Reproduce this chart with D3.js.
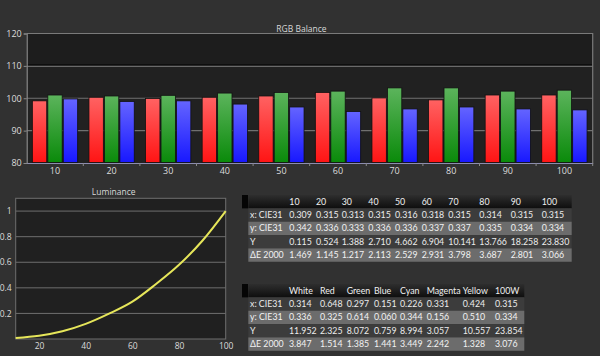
<!DOCTYPE html>
<html><head><meta charset="utf-8">
<script src="https://cdn.jsdelivr.net/npm/d3@7"></script>
<style>
html,body{margin:0;padding:0;background:#313131;}
svg{display:block;}
text{font-family:"Open Sans",sans-serif;}
.tbl text{font-family:Lato,"Open Sans",sans-serif;}
</style></head>
<body>
<script>
// ---- data ----
const levels = ["10","20","30","40","50","60","70","80","90","100"];
const redVals   = [99.2,100.3,99.9,100.3,100.7,101.8,100.1,99.5,101.0,101.0];
const greenVals = [101.0,100.7,100.9,101.6,101.8,102.2,103.2,103.2,102.2,102.5];
const blueVals  = [99.8,99.0,99.2,98.2,97.3,95.9,96.7,97.3,96.7,96.4];
const rgbTicks = [80,90,100,110,120];

const lumX = [10,20,30,40,50,60,70,80,90,100];
const lumVals = [0.008,0.025,0.06,0.118,0.198,0.292,0.428,0.58,0.768,1.0];
const lumYTicks = [0.2,0.4,0.6,0.8,1];
const lumXTicks = [20,40,60,80,100];

const t1Header = ["10","20","30","40","50","60","70","80","90","100"];
const t1Labels = ["x: CIE31","y: CIE31","Y","\u0394E 2000"];
const t1x  = ["0.309","0.315","0.313","0.315","0.316","0.318","0.315","0.314","0.315","0.315"];
const t1y  = ["0.342","0.336","0.333","0.336","0.336","0.337","0.337","0.335","0.334","0.334"];
const t1Y  = ["0.115","0.524","1.388","2.710","4.662","6.904","10.141","13.766","18.258","23.830"];
const t1dE = ["1.469","1.145","1.217","2.113","2.529","2.931","3.798","3.687","2.801","3.066"];

const t2Header = ["White","Red","Green","Blue","Cyan","Magenta","Yellow","100W"];
const t2x  = ["0.314","0.648","0.297","0.151","0.226","0.331","0.424","0.315"];
const t2y  = ["0.336","0.325","0.614","0.060","0.344","0.156","0.510","0.334"];
const t2Y  = ["11.952","2.325","8.072","0.759","8.994","3.057","10.557","23.854"];
const t2dE = ["3.847","1.514","1.385","1.441","3.449","2.242","1.328","3.076"];

// ---- svg ----
const W=600,H=356;
const svg=d3.select("body").append("svg").attr("width",W).attr("height",H);
const defs=svg.append("defs");
svg.append("rect").attr("width",W).attr("height",H).attr("fill","#313131");

function grad(id,top,bot){
  const g=defs.append("linearGradient").attr("id",id).attr("x1",0).attr("y1",0).attr("x2",0).attr("y2",1);
  g.append("stop").attr("offset","0%").attr("stop-color",top);
  g.append("stop").attr("offset","100%").attr("stop-color",bot);
}
grad("gR","#ff6262","#ff1414");
grad("gG","#5cb45c","#0a8a0a");
grad("gB","#6464ff","#1818ff");
grad("gH","#2e2e2e","#0e0e0e");

// ---- RGB Balance ----
const m={l:26.7,r:592.7,t:33.5,b:163};
const x0=d3.scaleBand().domain(levels).range([m.l,m.r]).paddingInner(0.2).paddingOuter(0.1);
const x1=d3.scaleBand().domain(["R","G","B"]).range([0,x0.bandwidth()]).paddingInner(0.07);
const y=d3.scaleLinear().domain([80,120]).range([m.b,m.t]);

svg.append("rect").attr("x",m.l).attr("y",m.t).attr("width",m.r-m.l).attr("height",m.b-m.t).attr("fill","#212121");
svg.append("rect").attr("x",m.l).attr("y",m.t).attr("width",m.r-m.l).attr("height",y(110)-m.t).attr("fill","#1d1d1d");
[90,100].forEach(v=>{
  svg.append("line").attr("x1",m.l).attr("x2",m.r).attr("y1",y(v)).attr("y2",y(v)).attr("stroke","#707070").attr("stroke-width",1.2);
});
svg.append("line").attr("x1",m.l).attr("x2",m.r).attr("y1",y(110)-1).attr("y2",y(110)-1).attr("stroke","#0a0a0a").attr("stroke-width",1.2);
svg.append("line").attr("x1",m.l).attr("x2",m.r).attr("y1",y(110)+0.5).attr("y2",y(110)+0.5).attr("stroke","#6a6a6a").attr("stroke-width",1.2);

const series=[["R",redVals,"url(#gR)"],["G",greenVals,"url(#gG)"],["B",blueVals,"url(#gB)"]];
series.forEach(([k,vals,fill])=>{
  svg.append("g").selectAll("rect").data(vals).join("rect")
    .attr("x",(d,i)=>x0(levels[i])+x1(k))
    .attr("y",d=>y(d))
    .attr("width",x1.bandwidth())
    .attr("height",d=>y(80)-y(d)-0.5)
    .attr("fill",fill).attr("stroke","#111").attr("stroke-width",0.8);
});
svg.append("path").attr("d",`M${m.l},${m.t}H${m.r}V${m.b}`).attr("fill","none").attr("stroke","#7a7a7a").attr("stroke-width",1.2);
const yAx=svg.append("g").attr("transform",`translate(${m.l},0)`)
  .call(d3.axisLeft(y).tickValues(rgbTicks).tickSize(3).tickPadding(2));
yAx.select(".domain").attr("stroke","#8a8a8a").attr("stroke-width",1.2);
yAx.selectAll(".tick line").attr("stroke","#8a8a8a");
yAx.selectAll("text").attr("fill","#dcdcdc").attr("font-size","9px");
const xAx=svg.append("g").attr("transform",`translate(0,${m.b})`)
  .call(d3.axisBottom(x0).tickSize(0).tickPadding(5));
xAx.select(".domain").attr("stroke","#8c8cb0").attr("stroke-width",1.2);
xAx.selectAll("text").attr("fill","#dcdcdc").attr("font-size","9px");
const bounds=levels.slice(1).map(l=>x0(l)-x0.step()*x0.paddingInner()/2);
bounds.push(m.r);
svg.append("g").selectAll("line").data(bounds).join("line")
  .attr("x1",d=>d).attr("x2",d=>d).attr("y1",m.b).attr("y2",m.b+3).attr("stroke","#8a8a8a");
svg.append("text").attr("x",301.5).attr("y",31.5).attr("text-anchor","middle").attr("fill","#d8d8d8").attr("font-size","8.5px").text("RGB Balance");

// ---- Luminance ----
const L={l:15.7,r:225.7,t:198.3,b:339};
const lx=d3.scaleLinear().domain([10,100]).range([L.l,L.r]);
const ly=d3.scaleLinear().domain([0,1.1]).range([L.b,L.t]);
svg.append("rect").attr("x",L.l).attr("y",L.t).attr("width",L.r-L.l).attr("height",L.b-L.t).attr("fill","#202020").attr("stroke","#6e6e6e").attr("stroke-width",1);
svg.append("g").selectAll("line").data(lumYTicks).join("line")
  .attr("x1",L.l).attr("x2",L.r).attr("y1",d=>ly(d)).attr("y2",d=>ly(d)).attr("stroke","#6e6e6e").attr("stroke-width",1);
const lyAx=svg.append("g").attr("transform",`translate(${L.l},0)`)
  .call(d3.axisLeft(ly).tickValues(lumYTicks).tickSize(0).tickPadding(4).tickFormat(d3.format("~g")));
lyAx.select(".domain").remove();
lyAx.selectAll("text").attr("fill","#dcdcdc").attr("font-size","8.5px");
const lxAx=svg.append("g").attr("transform",`translate(0,${L.b})`)
  .call(d3.axisBottom(lx).tickValues(lumXTicks).tickSize(0).tickPadding(4));
lxAx.select(".domain").remove();
lxAx.selectAll("text").attr("fill","#dcdcdc").attr("font-size","8.5px");
svg.append("path").datum(lumX.map((v,i)=>[v,lumVals[i]]))
  .attr("d",d3.line().x(d=>lx(d[0])).y(d=>ly(d[1])).curve(d3.curveMonotoneX))
  .attr("fill","none").attr("stroke","#e6e65a").attr("stroke-width",2);
svg.append("text").attr("x",113.7).attr("y",195).attr("text-anchor","middle").attr("fill","#d8d8d8").attr("font-size","8.5px").text("Luminance");

// ---- tables ----
function table(top,right,header,colX,rows){
  const rh=13.35, left=248.3;
  const tg0=svg.append("g").attr("class","tbl");
  tg0.append("rect").attr("x",242).attr("y",top).attr("width",6).attr("height",rh).attr("fill","#050505");
  tg0.append("rect").attr("x",left).attr("y",top).attr("width",right-left).attr("height",rh).attr("fill","url(#gH)");
  const g=tg0.append("g").attr("font-size","8.8px");
  header.forEach((h,i)=>g.append("text").attr("x",colX[i]).attr("y",top+rh/2+3).attr("fill","#f0f0f0").text(h));
  rows.forEach((r,ri)=>{
    const ry=top+rh*(ri+1);
    tg0.append("rect").attr("x",left).attr("y",ry).attr("width",right-left).attr("height",rh)
      .attr("fill",ri%2===0?"#3c3c3c":"#6c6c6c");
    const tg=tg0.append("g").attr("font-size","8.8px").attr("fill",ri%2===0?"#ececec":"#f2f2f2");
    tg.append("text").attr("x",250).attr("y",ry+rh/2+3).text(r[0]);
    r[1].forEach((v,i)=>tg.append("text").attr("x",colX[i]).attr("y",ry+rh/2+3).text(v));
  });
}
table(195,571.7,t1Header,[289.3,316,341.7,368.3,395,421.7,448.3,479.3,510.7,541.7],
  [[t1Labels[0],t1x],[t1Labels[1],t1y],[t1Labels[2],t1Y],[t1Labels[3],t1dE]]);
table(284,524.3,t2Header,[289,320,346.7,374,400,426.7,462.7,495],
  [[t1Labels[0],t2x],[t1Labels[1],t2y],[t1Labels[2],t2Y],[t1Labels[3],t2dE]]);
</script>
</body></html>
